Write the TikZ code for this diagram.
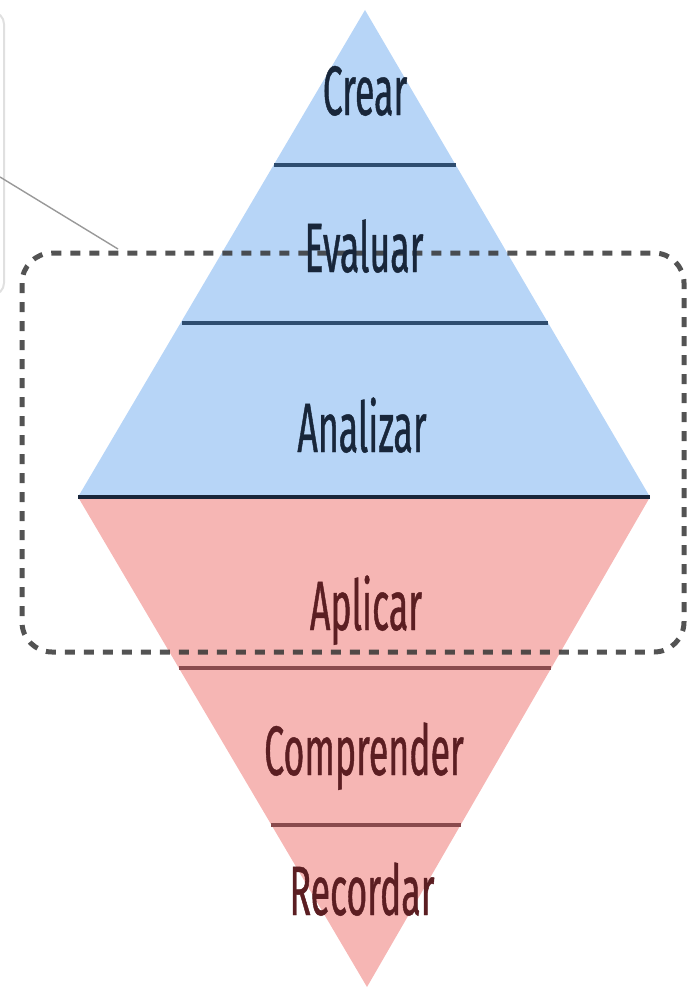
\documentclass[tikz,border=0pt]{standalone}
\usepackage{fontspec}
\setmainfont{Fira Sans}[FakeStretch=0.51, FakeBold=0.6]
\definecolor{bluefill}{HTML}{B7D5F7}
\definecolor{pinkfill}{HTML}{F6B6B4}
\definecolor{blueline}{HTML}{2E4D70}
\definecolor{pinkline}{HTML}{8A4A4D}
\definecolor{bluetext}{HTML}{18263A}
\definecolor{pinktext}{HTML}{5B1E22}
\definecolor{dashgrey}{HTML}{353535}
\tikzset{
  lvl/.style={anchor=base, inner sep=0pt, font=\fontsize{70}{80}\selectfont},
  uptext/.style={lvl, text=bluetext},
  lowtext/.style={lvl, text=pinktext},
  upsep/.style={draw=blueline, line width=3.5pt},
  lowsep/.style={draw=pinkline, line width=3.5pt},
  focusbox/.style={draw=dashgrey, line width=5pt, dash pattern=on 10pt off 9pt, rounded corners=30pt, draw opacity=0.85},
  greybox/.style={draw=black!12, line width=2pt, rounded corners=12pt},
  pointer/.style={draw=black!40, line width=1.4pt}
}
\begin{document}
\begin{tikzpicture}[x=1pt,y=-1pt]
\useasboundingbox (0,0) rectangle (698,990);
% grey box at the left edge
\draw[greybox] (-200,12) rectangle (4,295);
% diamond
\coordinate (top) at (365,10);
\coordinate (L) at (78,497);
\coordinate (R) at (650,497);
\coordinate (bot) at (367,987);
\fill[bluefill] (top) -- (L) -- (R) -- cycle;
\fill[pinkfill] (L) -- (bot) -- (R) -- cycle;
% separators
\coordinate (s1l) at (274,165); \coordinate (s1r) at (456,165);
\coordinate (s2l) at (182,323); \coordinate (s2r) at (548,323);
\coordinate (s4l) at (179,668); \coordinate (s4r) at (551,668);
\coordinate (s5l) at (271,825); \coordinate (s5r) at (461,825);
\draw[upsep] (s1l) -- (s1r);
\draw[upsep] (s2l) -- (s2r);
\draw[upsep, draw=bluetext] (L) -- (R);
\draw[lowsep] (s4l) -- (s4r);
\draw[lowsep] (s5l) -- (s5r);
% dashed focus box
\draw[focusbox] (22,253) rectangle (684,652);
% labels
\node[uptext] (crear) at (365,115) {Crear};
\node[uptext] (evaluar) at (364,272) {Evaluar};
\node[uptext] (analizar) at (362,452) {Analizar};
\node[lowtext] (aplicar) at (366,630) {Aplicar};
\node[lowtext] (comprender) at (364,775) {Comprender};
\node[lowtext] (recordar) at (362,915) {Recordar};
% pointer
\coordinate (pfrom) at (0,177);
\coordinate (pto) at (118,249);
\draw[pointer] (pfrom) -- (pto);
\end{tikzpicture}
\end{document}
